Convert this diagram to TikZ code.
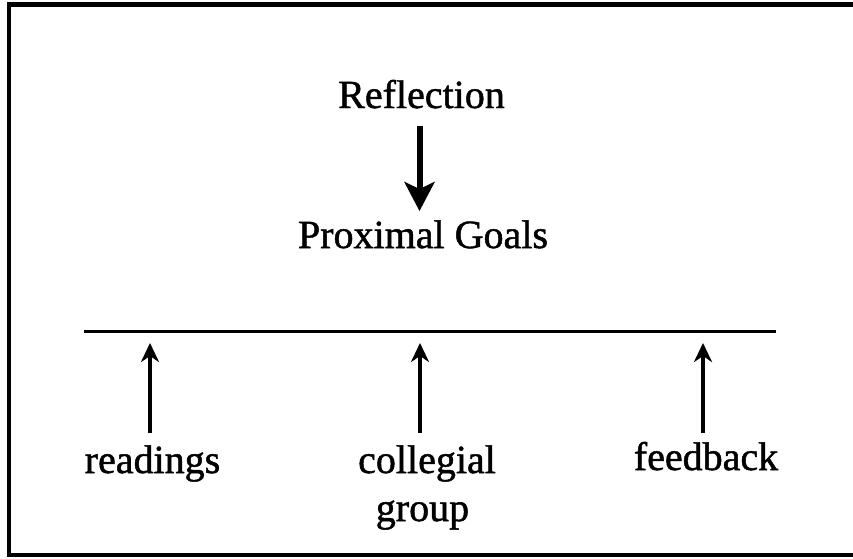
\documentclass[tikz,border=0pt]{standalone}
\usepackage{fontspec}
\setmainfont{Liberation Serif}
\newfontfamily\lblfont[FakeBold=1.2]{Liberation Serif}
\usetikzlibrary{arrows.meta}
\begin{document}
\begin{tikzpicture}[x=1pt,y=-1pt,
  lbl/.style={inner sep=0pt, anchor=base, font=\lblfont\fontsize{40pt}{48pt}\selectfont},
  bigarrow/.style={line width=6pt, -{Stealth[length=29pt,width=30pt,inset=7pt]}},
  smallarrow/.style={line width=3.5pt, -{Stealth[length=19pt,width=18pt,inset=6pt]}},
  hrule/.style={line width=2.5pt}]
\useasboundingbox (0,0) rectangle (853,558);
\draw[line width=4.5pt] (853,4.5) -- (9,4.5) -- (9,555) -- (853,555);
\node[lbl] (refl) at (421.5,108) {Reflection};
\node[lbl] (goals) at (423,248) {Proximal Goals};
\coordinate (hl) at (84,331.5);
\coordinate (hr) at (776,331.5);
\draw[hrule] (hl) -- (hr);
\node[lbl] (read) at (152.5,473) {readings};
\node[lbl] (coll) at (427,473) {collegial};
\node[lbl] (grp) at (422.5,521) {group};
\node[lbl] (feed) at (706,470) {feedback};
\coordinate (d1) at (419.5,0);
\coordinate (u1) at (150,0);
\coordinate (u2) at (420,0);
\coordinate (u3) at (703,0);
\draw[bigarrow, shorten <=17pt, shorten >=9pt] (refl.south -| d1) -- (goals.north -| d1);
\draw[smallarrow, shorten <=11.7pt, shorten >=11.5pt] (read.north -| u1) -- (hl -| u1);
\draw[smallarrow, shorten <=11.7pt, shorten >=11.5pt] (coll.north -| u2) -- (hl -| u2);
\draw[smallarrow, shorten <=8.7pt, shorten >=11.5pt] (feed.north -| u3) -- (hl -| u3);
\end{tikzpicture}
\end{document}
